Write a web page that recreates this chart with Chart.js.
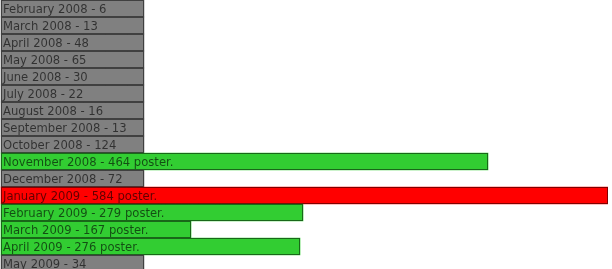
<!DOCTYPE html>
<html><head><meta charset="utf-8">
<script src="https://cdn.jsdelivr.net/npm/chart.js@4/dist/chart.umd.min.js"></script>
<style>
html,body{margin:0;padding:0;overflow:hidden;background:#fff;}
#wrap{width:612px;height:272px;position:relative;}
</style></head>
<body><div id="wrap"><canvas id="c"></canvas></div>
<script>
const months = ["February 2008","March 2008","April 2008","May 2008","June 2008","July 2008","August 2008","September 2008","October 2008","November 2008","December 2008","January 2009","February 2009","March 2009","April 2009","May 2009"];
const posts = [6,13,48,65,30,22,16,13,124,464,72,584,279,167,276,34];
const highlighted = [false,false,false,false,false,false,false,false,false,true,false,true,true,true,true,false];
const SMALL_BAR_END = 120;   // fixed display length for non-highlighted rows
const BAR_START = -23;

const maxV = Math.max(...posts);
const labels = months.map((m,i)=> m + " - " + posts[i] + (highlighted[i] ? " poster." : ""));
const barData = posts.map((v,i)=> [BAR_START, highlighted[i] ? v : SMALL_BAR_END]);
const colors = posts.map((v,i)=> v===maxV ? "#FF0000" : (highlighted[i] ? "#32CD32" : "#808080"));

const overlay = {
  id:'overlay',
  afterDatasetsDraw(chart){
    const ctx = chart.ctx;
    const meta = chart.getDatasetMeta(0);
    ctx.save();
    meta.data.forEach((bar,i)=>{
      const p = bar.getProps(['x','y','base','height'], true);
      const left = Math.min(p.x,p.base), right = Math.max(p.x,p.base);
      const top = p.y - p.height/2;
      ctx.setLineDash([1,1]);
      ctx.strokeStyle = "#000";
      ctx.lineWidth = 1;
      ctx.strokeRect(left+0.5, top+0.5, right-left-1, p.height-1);
      ctx.setLineDash([]);
      ctx.fillStyle = "rgba(0,0,0,0.62)";
      ctx.font = "11.6px 'DejaVu Sans'";
      ctx.textBaseline = "middle";
      ctx.textAlign = "left";
      ctx.fillText(labels[i], left+2, p.y+1);
    });
    ctx.restore();
  }
};

new Chart(document.getElementById('c'), {
  type:'bar',
  data:{labels:labels, datasets:[{data:barData, backgroundColor:colors, borderWidth:0, barPercentage:1, categoryPercentage:1}]},
  options:{
    indexAxis:'y', responsive:true, maintainAspectRatio:false, animation:false,
    layout:{padding:{left:0,right:4,top:0,bottom:0}},
    plugins:{legend:{display:false}, tooltip:{enabled:false}},
    scales:{
      x:{type:'linear', min:-24, max:584, display:false},
      y:{display:false}
    }
  },
  plugins:[overlay]
});
</script></body></html>
